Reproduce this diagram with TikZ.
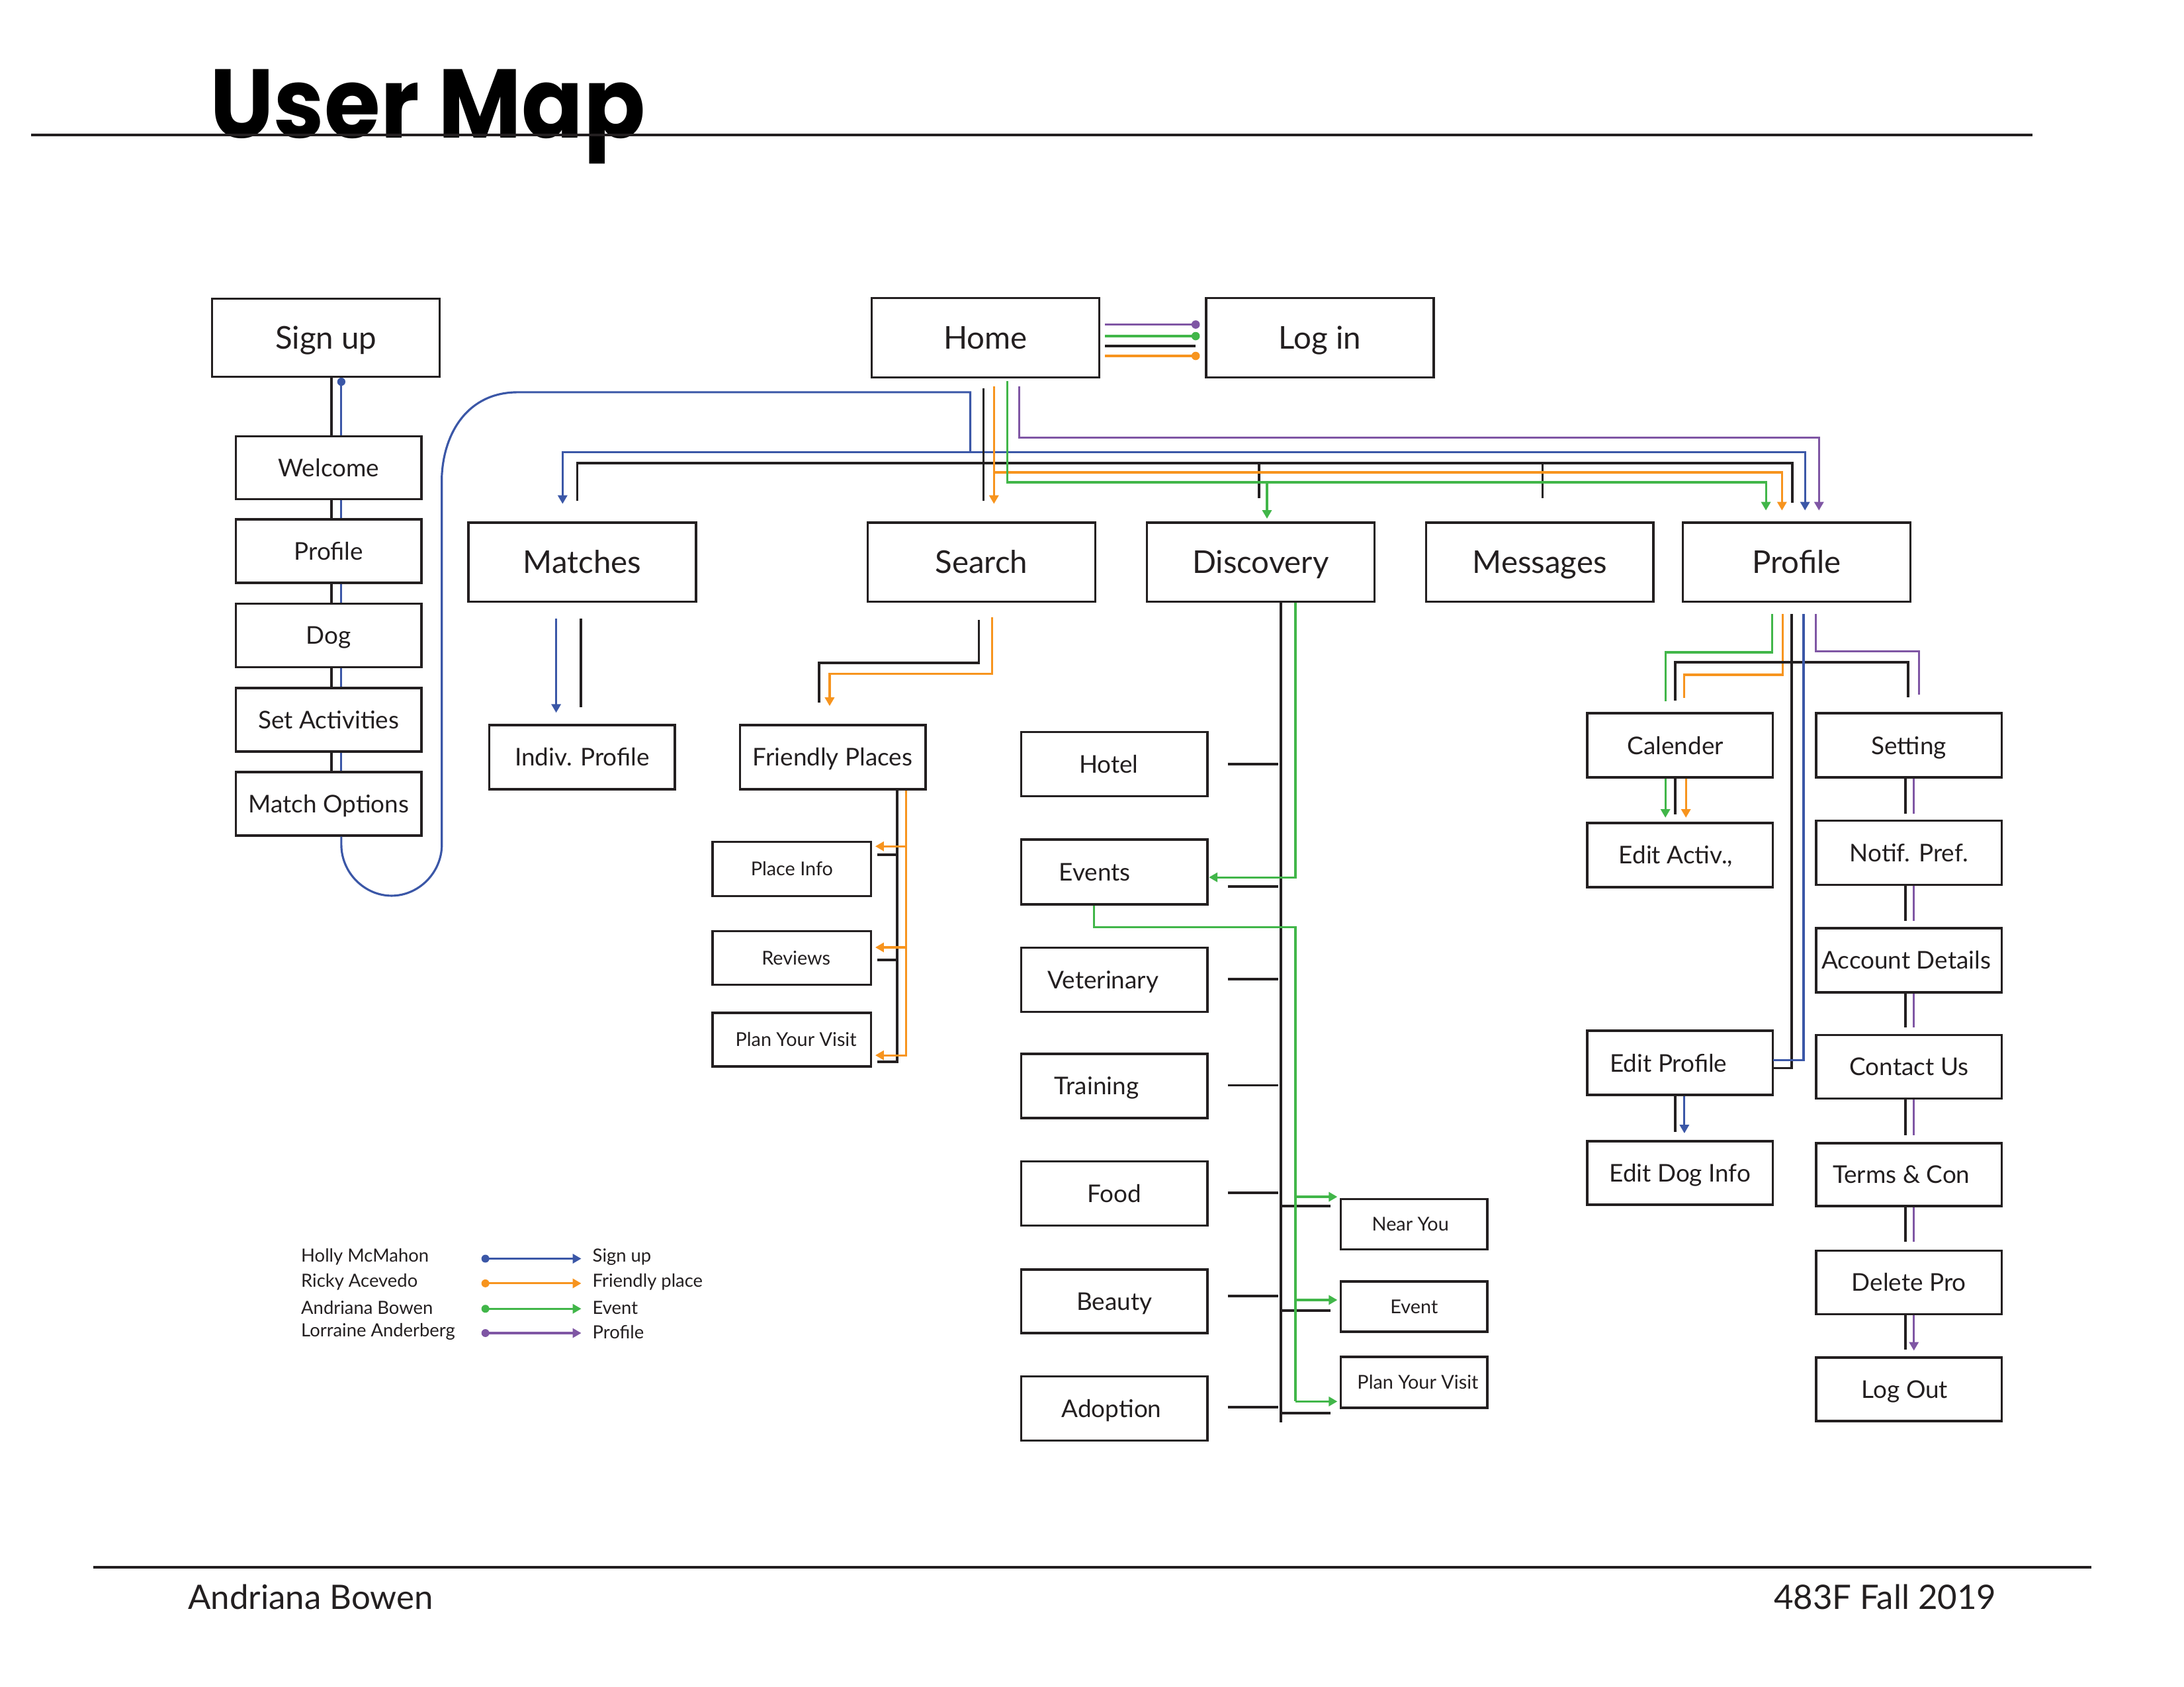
\documentclass[tikz,border=0pt]{standalone}
\usepackage{fontspec}
\setmainfont{Lato}
\newfontfamily\titlefont{Poppins}
\usetikzlibrary{arrows.meta}
\definecolor{ink}{HTML}{231F20}
\definecolor{cblue}{HTML}{3B57A7}
\definecolor{corange}{HTML}{F7941E}
\definecolor{cgreen}{HTML}{41B649}
\definecolor{cpurple}{HTML}{7F56A4}
% #1 style, #2 x1, #3 y1, #4 x2, #5 y2, #6 name, #7 text, #8 text offset (doubled)
\newcommand\BX[8]{\node[bx,#1,minimum width={(#4-#2)*0.0211cm},minimum height={(#5-#3)*0.0211cm}] (#6) at ({(#2+#4)/2},{(#3+#5)/2}) {\hspace*{#8}#7};}
\begin{document}
\begin{tikzpicture}[x=0.0211cm,y=-0.0211cm,
  bx/.style={draw=ink, line width=1pt, inner sep=0pt, text=ink},
  big/.style={font=\fontsize{13.5}{16}\selectfont, text height=9.7pt, text depth=0pt},
  mid/.style={font=\fontsize{10.5}{12}\selectfont, text height=7.6pt, text depth=0pt},
  sml/.style={font=\fontsize{8.2}{10}\selectfont, text height=5.9pt, text depth=0pt},
  leg/.style={font=\fontsize{7.8}{9}\selectfont, text=ink, inner sep=0pt, anchor=west},
  kl/.style={draw=ink, line width=1.1pt},
  bl/.style={draw=cblue, line width=0.9pt},
  ol/.style={draw=corange, line width=0.9pt},
  gl/.style={draw=cgreen, line width=0.9pt},
  pl/.style={draw=cpurple, line width=0.9pt},
  tip/.style={-{Triangle[length=3.7pt,width=4pt]}}
]
\useasboundingbox (0,0) rectangle (1564.5,1208.5);

% ---------- title and footer ----------
\node[anchor=base west, inner sep=0pt, font=\titlefont\bfseries\fontsize{42}{42}\selectfont] (title) at (150,98.6) {\scalebox{0.93}[1]{User Map}};
\draw[draw=ink, line width=0.9pt] (22.3,96.7) -- (1456,96.7);
\draw[draw=ink, line width=0.95pt] (66.8,1122.7) -- (1498,1122.7);
\node[anchor=base west, inner sep=0pt, text=ink, font=\fontsize{14.5}{16}\selectfont] (author) at (134.4,1153) {Andriana Bowen};
\node[anchor=base east, inner sep=0pt, text=ink, font=\fontsize{14.5}{16}\selectfont] (course) at (1430.4,1153) {483F Fall 2019};

% ---------- boxes ----------
\BX{big}{152}{214}{315}{270}{signup}{Sign up}{0pt}
\BX{mid}{169}{312.5}{302}{357.5}{welcome}{Welcome}{0pt}
\BX{mid}{169}{372}{302}{417.5}{profileL}{Profile}{0pt}
\BX{mid}{169}{432.5}{302}{478}{dog}{Dog}{0pt}
\BX{mid}{169}{493}{302}{538.5}{setact}{Set Activities}{0pt}
\BX{mid}{169}{553}{302}{598.5}{matchopt}{Match Options}{0pt}

\BX{big}{624.5}{213.5}{787.5}{270.5}{home}{Home}{0pt}
\BX{big}{864}{213.5}{1027}{270.5}{login}{Log in}{0pt}

\BX{big}{335.5}{374.5}{498.5}{431}{matches}{Matches}{0pt}
\BX{big}{621.5}{374.5}{784.5}{431}{search}{Search}{0pt}
\BX{big}{821.5}{374.5}{984.5}{431}{discovery}{Discovery}{0pt}
\BX{big}{1021.5}{374.5}{1184.5}{431}{messages}{Messages}{0pt}
\BX{big}{1205.5}{374.5}{1368.5}{431}{profile}{Profile}{0pt}

\BX{mid}{350.5}{519.5}{483.5}{565.5}{indiv}{Indiv. Profile}{0pt}
\BX{mid}{530}{519.5}{663}{565.5}{friendly}{Friendly Places}{0pt}
\BX{sml}{510.5}{603}{624}{642}{placeinfo}{Place Info}{0pt}
\BX{sml}{510.5}{667}{624}{705.5}{reviews}{Reviews}{3.6pt}
\BX{sml}{510.5}{725.5}{624}{764}{planL}{Plan Your Visit}{3.6pt}

\BX{mid}{731.5}{524.5}{865}{570.5}{hotel}{Hotel}{-4.8pt}
\BX{mid}{731.5}{601.5}{865}{648}{events}{Events}{-16.8pt}
\BX{mid}{731.5}{679}{865}{725}{vet}{Veterinary}{-9.6pt}
\BX{mid}{731.5}{755}{865}{801}{training}{Training}{-15.2pt}
\BX{mid}{731.5}{832}{865}{878}{food}{Food}{0pt}
\BX{mid}{731.5}{909.5}{865}{955}{beauty}{Beauty}{0pt}
\BX{mid}{731.5}{986}{865}{1032}{adoption}{Adoption}{-2.4pt}

\BX{sml}{960.5}{859}{1065.5}{895}{nearyou}{Near You}{-3.2pt}
\BX{sml}{960.5}{918}{1065.5}{954}{event}{Event}{0pt}
\BX{sml}{960.5}{972}{1065.5}{1008.5}{planR}{Plan Your Visit}{3.2pt}

\BX{mid}{1137}{511}{1270}{557}{calender}{Calender}{-4pt}
\BX{mid}{1137}{589.5}{1270}{635.5}{editact}{Edit Activ.,}{-3.6pt}
\BX{mid}{1137}{738.5}{1270}{784.5}{editprof}{Edit Profile}{-10pt}
\BX{mid}{1137}{817.5}{1270}{863}{editdog}{Edit Dog Info}{0pt}

\BX{mid}{1301}{511}{1434}{557}{setting}{Setting}{0pt}
\BX{mid}{1301}{588}{1434}{634}{notif}{Notif. Pref.}{0pt}
\BX{mid}{1301}{665}{1434}{711}{account}{Account Details}{-2.4pt}
\BX{mid}{1301}{741.5}{1434}{787}{contact}{Contact Us}{0pt}
\BX{mid}{1301}{819}{1434}{864}{terms}{Terms \& Con}{-6.6pt}
\BX{mid}{1301}{896}{1434}{941.5}{delete}{Delete Pro}{0pt}
\BX{mid}{1301}{972.5}{1434}{1018}{logout}{Log Out}{-3.6pt}

% ---------- sign-up column ----------
\draw[kl] (237.5,0 |- signup.south) -- (237.5,0 |- welcome.north);
\draw[kl] (237.5,0 |- welcome.south) -- (237.5,0 |- profileL.north);
\draw[kl] (237.5,0 |- profileL.south) -- (237.5,0 |- dog.north);
\draw[kl] (237.5,0 |- dog.south) -- (237.5,0 |- setact.north);
\draw[kl] (237.5,0 |- setact.south) -- (237.5,0 |- matchopt.north);
\fill[cblue] (244.5,273.5) circle[radius=1.75pt];
\draw[bl] (244.5,273.5) -- (244.5,0 |- welcome.north);
\draw[bl] (244.5,0 |- welcome.south) -- (244.5,0 |- profileL.north);
\draw[bl] (244.5,0 |- profileL.south) -- (244.5,0 |- dog.north);
\draw[bl] (244.5,0 |- dog.south) -- (244.5,0 |- setact.north);
\draw[bl] (244.5,0 |- setact.south) -- (244.5,0 |- matchopt.north);
\draw[bl] (244.5,0 |- matchopt.south) -- (244.5,605)
  .. controls (244.5,625.4) and (261.3,641.7) .. (280.5,641.7)
  .. controls (299.7,641.7) and (316.5,625.4) .. (316.5,605)
  -- (316.5,341) .. controls (318,310) and (335,281) .. (371,281)
  -- (695,281) -- (695,323.8);

% ---------- home <-> log in ----------
\draw[pl] (791.5,232.5) -- (856.5,232.5);
\fill[cpurple] (856.5,232.5) circle[radius=1.8pt];
\draw[gl] (791.5,240.8) -- (856.5,240.8);
\fill[cgreen] (856.5,240.8) circle[radius=1.8pt];
\draw[kl] (791.5,247.7) -- (856.5,247.7);
\draw[ol] (791.5,255) -- (856.5,255);
\fill[corange] (856.5,255) circle[radius=1.8pt];

% ---------- home down to the top row ----------
\draw[bl,tip] (695,323.8) -- (403,323.8) -- (403,361);
\draw[bl,tip] (695,323.8) -- (1293,323.8) -- (1293,365.7);
\draw[kl] (704.5,278) -- (704.5,358.7);
\draw[kl] (413.5,358.6) -- (413.5,331.8) -- (1284,331.8) -- (1284,360);
\draw[kl] (902,331.8) -- (902,357);
\draw[kl] (1105,331.8) -- (1105,357);
\draw[ol,tip] (712,277) -- (712,361);
\draw[ol,tip] (712,338.4) -- (1276.5,338.4) -- (1276.5,365.7);
\draw[gl,tip] (721.6,273) -- (721.6,345.5) -- (1265,345.5) -- (1265,365.7);
\draw[gl,tip] (907.6,345.5) -- (907.6,371.6);
\draw[pl,tip] (730,277) -- (730,313.6) -- (1303,313.6) -- (1303,365.7);

% ---------- matches ----------
\draw[bl,tip] (398.4,443.3) -- (398.4,510.6);
\draw[kl] (416,443.3) -- (416,506.6);

% ---------- search ----------
\draw[kl] (701.2,444) -- (701.2,474.7) -- (586.7,474.7) -- (586.7,503.2);
\draw[ol,tip] (710.5,442.2) -- (710.5,482.7) -- (594.3,482.7) -- (594.3,505.8);
\draw[kl] (642.7,0 |- friendly.south) -- (642.7,760.7) -- (628.3,760.7);
\draw[kl] (628.3,612.5) -- (642.7,612.5);
\draw[kl] (628.3,687.5) -- (642.7,687.5);
\draw[ol,tip] (649,0 |- friendly.south) -- (649,756) -- (627,756);
\draw[ol,tip] (649,606.3) -- (627,606.3);
\draw[ol,tip] (649,678.7) -- (627,678.7);

% ---------- discovery ----------
\draw[kl] (917.5,0 |- discovery.south) -- (917.5,1018.8);
\foreach \yy in {547.4,635,701.4,777.5,854.5,928.6,1008} {\draw[kl] (879.5,\yy) -- (915.5,\yy);}
\foreach \yy in {864,938.8,1012.2} {\draw[kl] (917.5,\yy) -- (953,\yy);}
\draw[gl,tip] (928,0 |- discovery.south) -- (928,628.5) -- (866,628.5);
\draw[gl] (783.5,0 |- events.south) -- (783.5,664.2) -- (928,664.2) -- (928,1004);
\foreach \yy in {857.4,931.3,1004} {\draw[gl,tip] (928,\yy) -- (958,\yy);}

% ---------- profile ----------
\draw[gl] (1269.4,440) -- (1269.4,467.3) -- (1193,467.3) -- (1193,502.4);
\draw[ol] (1277,440) -- (1277,483.4) -- (1206.5,483.4) -- (1206.5,500);
\draw[kl] (1283.5,440) -- (1283.5,765.2) -- (1270,765.2);
\draw[kl] (1200,501.7) -- (1200,474.4) -- (1367,474.4) -- (1367,499.5);
\draw[bl] (1292,440) -- (1292,759.5) -- (1270,759.5);
\draw[pl] (1300.6,440) -- (1300.6,466.6) -- (1374.5,466.6) -- (1374.5,497.5);

\draw[gl,tip] (1193,0 |- calender.south) -- (1193,585.8);
\draw[kl] (1200,0 |- calender.south) -- (1200,583.4);
\draw[ol,tip] (1207.7,0 |- calender.south) -- (1207.7,585.8);

\draw[kl] (1200,0 |- editprof.south) -- (1200,811);
\draw[bl,tip] (1206.6,0 |- editprof.south) -- (1206.6,811.9);

\draw[kl] (1365,0 |- setting.south) -- (1365,583);
\draw[pl] (1371,0 |- setting.south) -- (1371,583);
\draw[kl] (1365,0 |- notif.south) -- (1365,659.6);
\draw[pl] (1371,0 |- notif.south) -- (1371,659.6);
\draw[kl] (1365,0 |- account.south) -- (1365,735.8);
\draw[pl] (1371,0 |- account.south) -- (1371,735.8);
\draw[kl] (1365,0 |- contact.south) -- (1365,813.3);
\draw[pl] (1371,0 |- contact.south) -- (1371,813.3);
\draw[kl] (1365,0 |- terms.south) -- (1365,889.6);
\draw[pl] (1371,0 |- terms.south) -- (1371,889.6);
\draw[kl] (1365,0 |- delete.south) -- (1365,967);
\draw[pl,tip] (1371,0 |- delete.south) -- (1371,967.6);

% ---------- legend ----------
\node[leg] (n1) at (215.4,900.5) {Holly McMahon};
\node[leg] (n2) at (215.4,918.6) {Ricky Acevedo};
\node[leg] (n3) at (215.4,936.8) {Andriana Bowen};
\node[leg] (n4) at (215.4,954.2) {Lorraine Anderberg};
\node[leg] (l1) at (424.2,900.5) {Sign up};
\node[leg] (l2) at (424.2,918.6) {Friendly place};
\node[leg] (l3) at (424.2,936.8) {Event};
\node[leg] (l4) at (424.2,954.2) {Profile};
\draw[bl,tip] (347.7,901.7) -- (416.4,901.7);
\fill[cblue] (347.7,901.7) circle[radius=1.7pt];
\draw[ol,tip] (347.7,919.4) -- (416.4,919.4);
\fill[corange] (347.7,919.4) circle[radius=1.7pt];
\draw[gl,tip] (347.7,937.6) -- (416.4,937.6);
\fill[cgreen] (347.7,937.6) circle[radius=1.7pt];
\draw[pl,tip] (347.7,955) -- (416.4,955);
\fill[cpurple] (347.7,955) circle[radius=1.7pt];
\end{tikzpicture}
\end{document}
